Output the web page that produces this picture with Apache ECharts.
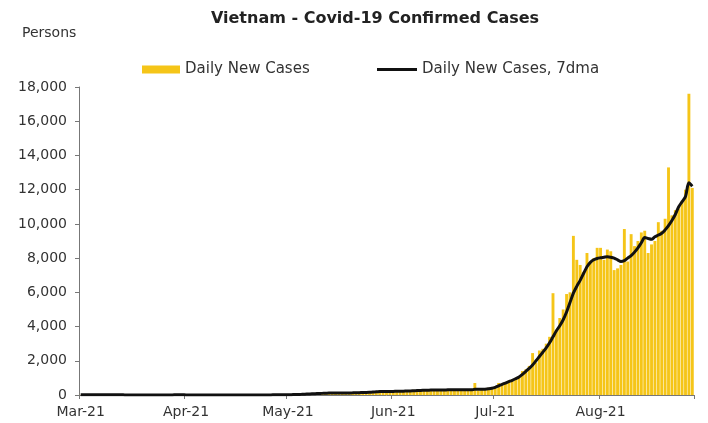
<!DOCTYPE html>
<html>
<head>
<meta charset="utf-8">
<title>Vietnam - Covid-19 Confirmed Cases</title>
<script src="https://cdn.jsdelivr.net/npm/echarts@6/dist/echarts.min.js"></script>
<style>
  html, body { margin: 0; padding: 0; background: #fff; }
  #chart { width: 708px; height: 423px; }
</style>
</head>
<body>
<div id="chart"></div>
<script>
// month labels and day counts (Mar 1 .. Aug 28, 2021)
const monthLabels = ['Mar-21', 'Apr-21', 'May-21', 'Jun-21', 'Jul-21', 'Aug-21'];
const monthDays = [31, 30, 31, 30, 31, 28];
const yTicks = [0, 2000, 4000, 6000, 8000, 10000, 12000, 14000, 16000, 18000];

// daily new cases
const dailyMar = [8, 12, 5, 10, 7, 3, 9, 15, 6, 4, 11, 8, 5, 2, 7, 10, 6, 9, 4, 3, 8, 12, 5, 7, 9, 6, 4, 10, 8, 5, 11];
const dailyApr = [6, 4, 8, 10, 5, 3, 7, 9, 4, 6, 2, 5, 8, 11, 6, 4, 3, 9, 7, 5, 10, 6, 8, 12, 7, 5, 9, 14, 18, 15];
const dailyMay = [25, 40, 55, 48, 70, 85, 90, 100, 110, 95, 120, 105, 130, 140, 115, 125, 90, 110, 150, 120, 140, 180, 160, 175, 210, 230, 195, 250, 220, 180, 190];
const dailyJun = [200, 240, 230, 250, 220, 270, 300, 280, 260, 290, 310, 250, 330, 300, 270, 280, 320, 290, 310, 330, 300, 280, 320, 250, 700, 260, 300, 350, 420, 450];
const dailyJul = [500, 700, 650, 720, 830, 900, 1000, 1100, 1400, 1500, 1700, 2450, 1900, 2600, 2700, 3000, 3400, 5950, 3800, 4500, 5000, 5900, 6000, 9300, 7900, 7600, 7200, 8300, 7700, 8000, 8600];
const dailyAug = [8600, 7900, 8500, 8400, 7300, 7400, 7600, 9700, 7800, 9400, 8700, 9000, 9500, 9600, 8300, 8800, 9000, 10100, 9600, 10300, 13300, 10500, 10800, 10900, 11300, 12000, 17600, 12100];

// 7-day moving average line
const ma7Mar = [10, 10, 9, 9, 9, 8, 8, 8, 9, 9, 8, 8, 8, 7, 7, 7, 7, 7, 7, 7, 7, 7, 7, 7, 7, 7, 7, 7, 8, 8, 8];
const ma7Apr = [7, 7, 7, 7, 7, 6, 6, 6, 6, 6, 6, 6, 6, 6, 6, 6, 6, 6, 6, 6, 6, 6, 7, 7, 7, 7, 8, 9, 11, 12];
const ma7May = [15, 20, 27, 33, 40, 50, 60, 70, 80, 85, 95, 100, 110, 115, 120, 120, 120, 118, 122, 125, 130, 138, 145, 150, 160, 175, 185, 200, 210, 210, 205];
const ma7Jun = [210, 215, 220, 225, 235, 240, 250, 260, 270, 275, 280, 285, 290, 290, 295, 295, 300, 300, 305, 310, 310, 310, 305, 300, 330, 330, 330, 340, 360, 390];
const ma7Jul = [450, 540, 620, 700, 780, 860, 950, 1050, 1200, 1380, 1560, 1760, 2000, 2250, 2500, 2750, 3050, 3400, 3750, 4050, 4400, 4850, 5400, 5950, 6350, 6700, 7100, 7500, 7750, 7900, 7980];
const ma7Aug = [8020, 8050, 8080, 8050, 8000, 7900, 7800, 7850, 8000, 8150, 8350, 8600, 8900, 9200, 9150, 9100, 9250, 9350, 9450, 9650, 9900, 10200, 10550, 11000, 11300, 11600, 12400, 12200];

const daily = [].concat(dailyMar, dailyApr, dailyMay, dailyJun, dailyJul, dailyAug);
const ma7 = [].concat(ma7Mar, ma7Apr, ma7May, ma7Jun, ma7Jul, ma7Aug);

// one category per day; month label sits on the first day
const categories = [];
const monthStart = {};
monthDays.forEach((n, m) => {
  for (let d = 1; d <= n; d++) {
    if (d === 1) monthStart[categories.length] = monthLabels[m];
    categories.push(monthLabels[m] + '/' + d);
  }
});
const isMonthStart = (idx) => monthStart[idx] !== undefined;

const FONT = 'DejaVu Sans';
const BAR_COLOR = '#F5C518';
const LINE_COLOR = '#111';
const legendText = { fontFamily: FONT, fontSize: 15, color: '#333' };

const chart = echarts.init(document.getElementById('chart'), null, { renderer: 'canvas' });
chart.setOption({
  animation: false,
  backgroundColor: '#fff',
  textStyle: { fontFamily: FONT, color: '#333' },
  graphic: [
    { type: 'text', x: 375, y: 19, style: { text: 'Vietnam - Covid-19 Confirmed Cases', font: 'bold 16px "DejaVu Sans"', fill: '#222', textAlign: 'center', textVerticalAlign: 'middle' } },
    { type: 'text', x: 22, y: 33, style: { text: 'Persons', font: '14px "DejaVu Sans"', fill: '#333', textVerticalAlign: 'middle' } }
  ],
  legend: [
    {
      left: 137,
      top: 57,
      itemWidth: 38,
      itemHeight: 8,
      textStyle: legendText,
      data: [{ name: 'Daily New Cases', icon: 'rect' }]
    },
    {
      left: 372,
      top: 57,
      itemWidth: 40,
      itemHeight: 3,
      textStyle: legendText,
      data: [{ name: 'Daily New Cases, 7dma', icon: 'rect', itemStyle: { color: LINE_COLOR } }]
    }
  ],
  grid: { left: 79, right: 14, top: 87, bottom: 28, containLabel: false },
  xAxis: {
    type: 'category',
    data: categories,
    boundaryGap: true,
    axisLine: { lineStyle: { color: '#777', width: 1 } },
    axisTick: { show: true, interval: (idx) => isMonthStart(idx), length: 4, lineStyle: { color: '#777' } },
    axisLabel: {
      interval: (idx) => isMonthStart(idx),
      formatter: (val, idx) => monthStart[idx] || '',
      color: '#333',
      fontFamily: FONT,
      fontSize: 14,
      margin: 10
    },
    splitLine: { show: false }
  },
  yAxis: {
    type: 'value',
    min: yTicks[0],
    max: yTicks[yTicks.length - 1],
    interval: 2000,
    axisLine: { show: true, lineStyle: { color: '#777', width: 1 } },
    axisTick: { show: true, length: 4, lineStyle: { color: '#777' } },
    axisLabel: {
      formatter: (v) => v.toLocaleString('en-US'),
      color: '#333',
      fontFamily: FONT,
      fontSize: 14,
      margin: 12
    },
    splitLine: { show: false }
  },
  series: [
    {
      name: 'Daily New Cases',
      type: 'bar',
      data: daily,
      barCategoryGap: '15%',
      itemStyle: { color: BAR_COLOR }
    },
    {
      name: 'Daily New Cases, 7dma',
      type: 'line',
      data: ma7,
      symbol: 'none',
      smooth: 0.3,
      lineStyle: { color: LINE_COLOR, width: 3 },
      itemStyle: { color: LINE_COLOR }
    }
  ]
});
</script>
</body>
</html>
